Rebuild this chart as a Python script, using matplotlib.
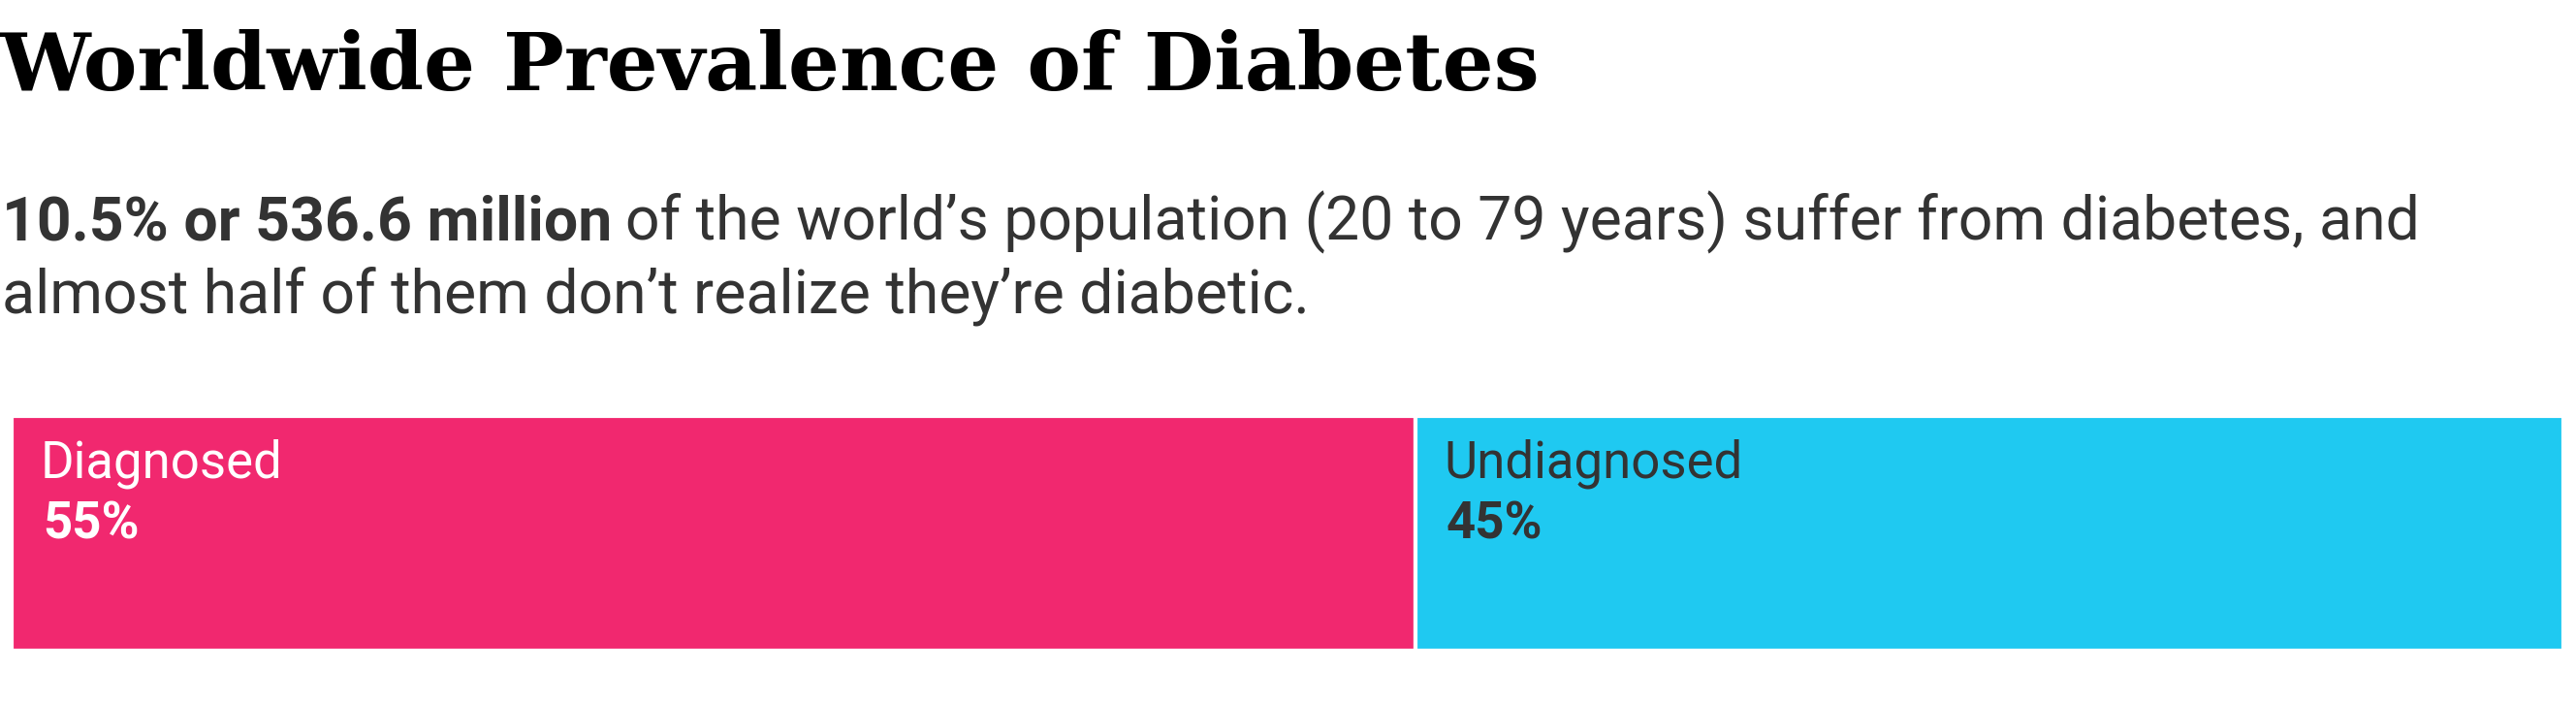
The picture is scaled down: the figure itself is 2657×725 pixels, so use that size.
import matplotlib
matplotlib.use("Agg")
import matplotlib.pyplot as plt

categories = ["Diagnosed", "Undiagnosed"]
shares = [55, 45]
colors = ["#F1286F", "#1FC9F1"]
text_colors = ["white", "#333333"]

W, H = 2657, 725
fig = plt.figure(figsize=(W/100, H/100), dpi=100)
fig.patch.set_facecolor("white")

def fx(px): return px / W
def fy(py): return 1 - py / H

fig.text(fx(0), fy(93), "Worldwide Prevalence of Diabetes", family="DejaVu Serif",
         weight="bold", fontsize=60, color="black", va="baseline", ha="left")

fig.canvas.draw()
r = fig.canvas.get_renderer()
t1 = fig.text(fx(2), fy(247), "10.5% or 536.6 million", family="Roboto", weight="bold",
              fontsize=45, color="#333333", va="baseline")
bb = t1.get_window_extent(r)
fig.text(fx(bb.x1 + 14), fy(247),
         "of the world\u2019s population (20 to 79 years) suffer from diabetes, and",
         family="Roboto", fontsize=45, color="#333333", va="baseline")
fig.text(fx(2), fy(322), "almost half of them don\u2019t realize they\u2019re diabetic.",
         family="Roboto", fontsize=45, color="#333333", va="baseline")

ax = fig.add_axes([fx(12), fy(671), fx(2644) - fx(12), fy(429) - fy(671)])
ax.set_xlim(0, sum(shares))
ax.set_ylim(0, 1)
ax.axis("off")
left = 0
for cat, s, c, tc in zip(categories, shares, colors, text_colors):
    ax.barh(0.5, s, left=left, height=1, color=c, edgecolor="white", linewidth=3)
    ax.annotate(cat, (left, 1), xytext=(30, -64), textcoords="offset pixels",
                family="Roboto", fontsize=38, color=tc, va="baseline")
    ax.annotate(f"{s}%", (left, 1), xytext=(32, -127), textcoords="offset pixels",
                family="Roboto", weight="bold", fontsize=38, color=tc, va="baseline")
    left += s

fig.savefig("out.png", dpi=100)
